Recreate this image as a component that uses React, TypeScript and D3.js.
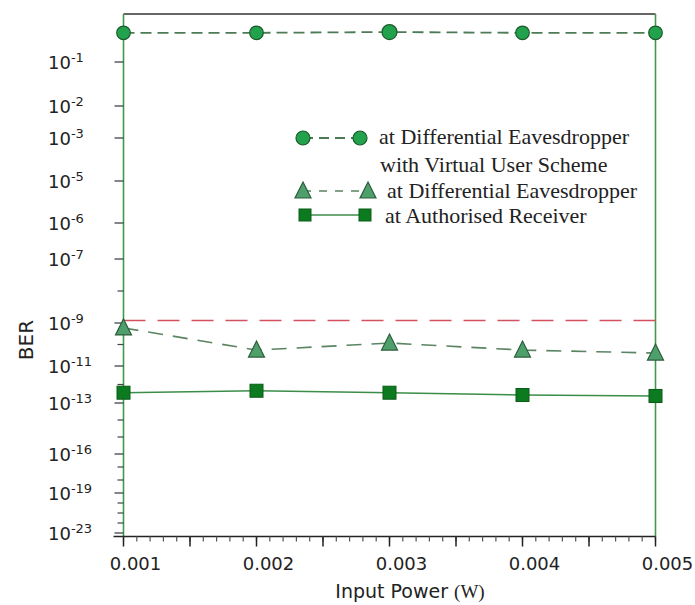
import React from "react";
import * as d3 from "d3";

// ---- data ----
const inputPower = [0.001, 0.002, 0.003, 0.004, 0.005];
const berVirtualUser = [0.46, 0.46, 0.48, 0.46, 0.46];
const berEavesdropper = [5.9e-10, 5.5e-11, 1.17e-10, 5.5e-11, 4.0e-11];
const berAuthorised = [3.6e-13, 4.6e-13, 3.6e-13, 2.7e-13, 2.4e-13];
const berThreshold = 1.2e-9;

// y axis of the reference uses irregular decade spacing (exponent -> pixel)
const yExponents = [-23, -19, -16, -13, -11, -9, -7, -6, -5, -3, -2, -1];
const yExponentPixels = [533, 493, 454, 403, 366, 323, 259, 223, 181, 138, 106, 62];
const yMinorExponents = [-8, -10, -12, -14, -15, -17, -18, -20, -21, -22];

const xMajorTicks = [0.001, 0.0015, 0.002, 0.0025, 0.003, 0.0035, 0.004, 0.0045, 0.005];
const xLabelTicks = [0.001, 0.002, 0.003, 0.004, 0.005];
const xMinorTicks = d3.range(0.001, 0.00501, 0.0001);

const legendLabels = [
  ["at Differential Eavesdropper", "with Virtual User Scheme"],
  ["at Differential Eavesdropper"],
  ["at Authorised Receiver"],
];

const W = 695;
const H = 605;
const left = 123.5;
const right = 655.5;
const top = 14;
const bottom = 536.5;

const x = d3.scaleLinear().domain([0.001, 0.005]).range([left, right]);
const yExp = d3.scaleLinear().domain(yExponents).range(yExponentPixels);
const y = (v: number) => yExp(Math.log10(v));

const SANS = "'DejaVu Sans', sans-serif";
const SERIF = "'Liberation Serif', 'Times New Roman', serif";

const circleFill = "#22a24c";
const circleStroke = "#1d5a2c";
const triFill = "#4f9f6c";
const triStroke = "#2c5e3a";
const sqFill = "#0c7a1f";
const sqStroke = "#0a5c18";

function tri(cx: number, cy: number, s = 1) {
  return `M${cx},${cy - 9 * s}L${cx + 8 * s},${cy + 7 * s}L${cx - 8 * s},${cy + 7 * s}Z`;
}

export default function App() {
  const lineGen = (vals: number[]) =>
    d3
      .line<number>()
      .x((_, i) => x(inputPower[i]))
      .y((v) => y(v))(vals) || "";

  const sup = (e: number) => `${e}`;

  return (
    <svg
      width={W}
      height={H}
      style={{ position: "absolute", left: 0, top: 0, background: "#fff" }}
    >
      <rect x={0} y={0} width={W} height={H} fill="#fff" />

      {/* frame */}
      <line x1={left} x2={right} y1={top} y2={top} stroke="#333" strokeWidth={1.6} />
      <line x1={left} x2={left} y1={top} y2={bottom} stroke="#3f9a4f" strokeWidth={1.6} />
      <line x1={right} x2={right} y1={top} y2={bottom} stroke="#3f9a4f" strokeWidth={1.6} />
      <line x1={left - 10} x2={right} y1={bottom} y2={bottom} stroke="#222" strokeWidth={1.6} />

      {/* y ticks */}
      {yExponents.map((e) => (
        <line key={"ym" + e} x1={left - 9} x2={left} y1={yExp(e)} y2={yExp(e)} stroke="#444" strokeWidth={1.3} />
      ))}
      {yMinorExponents.map((e) => (
        <line key={"yn" + e} x1={left - 6} x2={left} y1={yExp(e)} y2={yExp(e)} stroke="#444" strokeWidth={1.2} />
      ))}
      {yExponents.map((e) => (
        <text key={"yl" + e} x={48} y={yExp(e) + 6.5} fontFamily={SANS} fontSize={18} fill="#222">
          10
          <tspan dy={-7} fontSize={13}>
            {sup(e)}
          </tspan>
        </text>
      ))}

      {/* x ticks */}
      {xMinorTicks.map((t, i) => (
        <line key={"xn" + i} x1={x(t)} x2={x(t)} y1={bottom} y2={bottom + 5} stroke="#555" strokeWidth={1.2} />
      ))}
      {xMajorTicks.map((t) => (
        <line key={"xm" + t} x1={x(t)} x2={x(t)} y1={bottom} y2={bottom + 10} stroke="#222" strokeWidth={1.5} />
      ))}
      {xLabelTicks.map((t) => (
        <text key={"xl" + t} x={x(t) + 12} y={570} textAnchor="middle" fontFamily={SANS} fontSize={18} fill="#222">
          {t.toFixed(3)}
        </text>
      ))}

      {/* axis titles */}
      <text x={410} y={598} textAnchor="middle" fontFamily={SANS} fontSize={19} fill="#222">
        Input Power <tspan fontFamily={SERIF}>(W)</tspan>
      </text>
      <text
        transform={`translate(33,340) rotate(-90)`}
        textAnchor="middle"
        fontFamily={SANS}
        fontSize={20}
        fill="#222"
      >
        BER
      </text>

      {/* threshold */}
      <line
        x1={left}
        x2={right}
        y1={y(berThreshold)}
        y2={y(berThreshold)}
        stroke="#d4505f"
        strokeWidth={1.6}
        strokeDasharray="22,12"
      />

      {/* series lines */}
      <path d={lineGen(berAuthorised)} fill="none" stroke="#3b8d48" strokeWidth={1.6} />
      <path d={lineGen(berEavesdropper)} fill="none" stroke="#5a8462" strokeWidth={1.6} strokeDasharray="15,10" />
      <path d={lineGen(berVirtualUser)} fill="none" stroke="#4c7b56" strokeWidth={1.8} strokeDasharray="11,6" />

      {/* markers */}
      {berAuthorised.map((v, i) => (
        <rect
          key={"sq" + i}
          x={x(inputPower[i]) - 6.5}
          y={y(v) - 6.5}
          width={13}
          height={13}
          fill={sqFill}
          stroke={sqStroke}
          strokeWidth={1}
        />
      ))}
      {berEavesdropper.map((v, i) => (
        <path key={"tr" + i} d={tri(x(inputPower[i]), y(v))} fill={triFill} stroke={triStroke} strokeWidth={1.2} />
      ))}
      {berVirtualUser.map((v, i) => (
        <circle
          key={"ci" + i}
          cx={x(inputPower[i])}
          cy={y(v)}
          r={i === 2 ? 7.5 : 6.8}
          fill={circleFill}
          stroke={circleStroke}
          strokeWidth={1.2}
        />
      ))}

      {/* legend */}
      <g>
        <line x1={303} x2={360} y1={138} y2={138} stroke="#4c7b56" strokeWidth={1.8} strokeDasharray="10,6" />
        <circle cx={303} cy={138} r={7} fill={circleFill} stroke={circleStroke} strokeWidth={1.2} />
        <circle cx={360} cy={138} r={7} fill={circleFill} stroke={circleStroke} strokeWidth={1.2} />
        <text x={379} y={144} fontFamily={SERIF} fontSize={22} fill="#222">
          {legendLabels[0][0]}
        </text>
        <text x={380} y={172} fontFamily={SERIF} fontSize={22} fill="#222">
          {legendLabels[0][1]}
        </text>

        <line x1={303} x2={368} y1={191} y2={191} stroke="#5a8462" strokeWidth={1.6} strokeDasharray="8,8" />
        <path d={tri(303, 191)} fill={triFill} stroke={triStroke} strokeWidth={1.2} />
        <path d={tri(368, 191)} fill={triFill} stroke={triStroke} strokeWidth={1.2} />
        <text x={387} y={198} fontFamily={SERIF} fontSize={22} fill="#222">
          {legendLabels[1][0]}
        </text>

        <line x1={305} x2={365} y1={215} y2={215} stroke="#3b8d48" strokeWidth={1.6} />
        <rect x={299} y={209} width={12} height={12} fill={sqFill} stroke={sqStroke} strokeWidth={1} />
        <rect x={359} y={209} width={12} height={12} fill={sqFill} stroke={sqStroke} strokeWidth={1} />
        <text x={385} y={223} fontFamily={SERIF} fontSize={22} fill="#222">
          {legendLabels[2][0]}
        </text>
      </g>
    </svg>
  );
}
